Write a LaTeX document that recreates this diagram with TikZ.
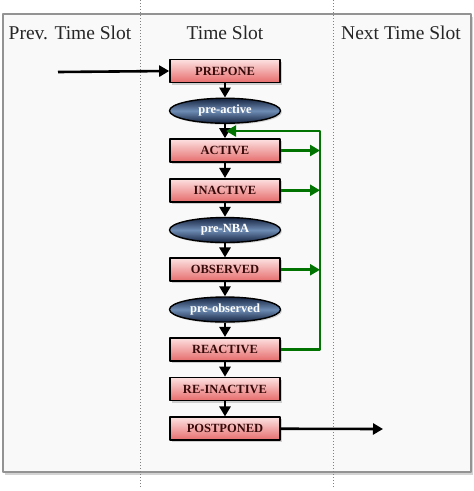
\documentclass[tikz,border=0pt]{standalone}
\usepackage{fontspec}
\setmainfont{Liberation Serif}
\usetikzlibrary{arrows.meta,shapes.geometric,shadows}
\definecolor{slotgreen}{RGB}{0,115,0}
\definecolor{boxtop}{RGB}{253,225,225}
\definecolor{boxbot}{RGB}{230,108,108}
\definecolor{boxtext}{RGB}{55,10,10}
\definecolor{plidark}{RGB}{22,36,64}
\definecolor{plimid}{RGB}{110,140,180}
\begin{document}
\begin{tikzpicture}[x=1pt, y=-1pt, line join=round, >={Triangle[length=10pt,width=11pt]},
	region/.style={draw=black, line width=1.6pt, minimum width=110pt, minimum height=23pt, inner sep=0pt,
		top color=boxtop, bottom color=boxbot, drop shadow={opacity=.35, shadow xshift=2pt, shadow yshift=-2pt},
		font=\bfseries\fontsize{12.5}{13}\selectfont, text=boxtext},
	pli/.style={ellipse, draw=black, line width=1.4pt, minimum width=111pt, minimum height=25pt, inner sep=0pt,
		top color=plidark, bottom color=plidark, middle color=plimid, drop shadow={opacity=.3, shadow xshift=1.5pt, shadow yshift=-1.5pt},
		font=\bfseries\fontsize{12.5}{13}\selectfont, text=white},
	flow/.style={line width=2.6pt, black},
	feedback/.style={line width=2.6pt, slotgreen},
	slotline/.style={gray, line width=1pt, dotted},
	slotname/.style={font=\fontsize{19.5}{20}\selectfont, text=black!85}]
		\useasboundingbox (0,0) rectangle (474,491);
		% time slot frame
		\draw[draw=gray!85, line width=2pt, fill=gray!5, drop shadow={opacity=.35, shadow xshift=1.5pt, shadow yshift=-2.5pt}] (3,14) rectangle (471,472);
		\foreach \x in {140,333}\draw[slotline] (\x,0)--(\x,488);
		\node[slotname] (prevslot) at (70,33) {Prev. Time Slot};
		\node[slotname] (curslot) at (225,33) {Time Slot};
		\node[slotname] (nextslot) at (401,33) {Next Time Slot};
		% regions and pli regions
		\foreach \i/\nm/\txt in {0/prepone/PREPONE, 2/active/ACTIVE, 3/inactive/INACTIVE, 5/observed/OBSERVED, 7/reactive/REACTIVE, 8/reinactive/RE-INACTIVE, 9/postponed/POSTPONED}
			\node[region] (\nm) at (225,{71+39.75*\i}) {\txt};
		\foreach \i/\nm/\txt in {1/preactive/pre-active, 4/prenba/pre-NBA, 6/preobserved/pre-observed}
			\node[pli] (\nm) at (225,{71+39.75*\i}) {\txt};
		\foreach \a/\b in {prepone/preactive, preactive/active, active/inactive, inactive/prenba, prenba/observed, observed/preobserved, preobserved/reactive, reactive/reinactive, reinactive/postponed}
			\draw[flow,->] (\a)--(\b);
		% into and out of the time slot
		\coordinate (from) at (58,72);
		\coordinate (to) at (383,429);
		\draw[flow,->] (from)--(prepone.west);
		\draw[flow,->] (postponed.east)--(to);
		% back to active
		\coordinate (ret) at (320,131);
		\coordinate (rettip) at (226,131);
		\draw[feedback,->] (reactive.east) -| (ret) -- (rettip);
		\foreach \s in {active,inactive,observed}\draw[feedback,->] (\s.east)--(\s.east -| ret);
\end{tikzpicture}
\end{document}
